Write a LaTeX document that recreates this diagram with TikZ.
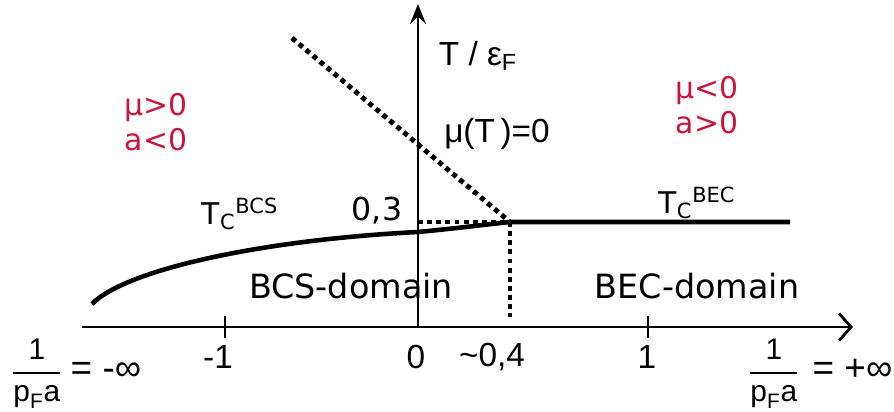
\documentclass[tikz,border=0pt]{standalone}
\usepackage{amsmath,fontspec}
\setmainfont{Liberation Sans}
\newfontfamily\verd{DejaVu Sans}
\usetikzlibrary{arrows.meta}
\definecolor{regime}{RGB}{204,20,60}
\tikzset{
  axis/.style={line width=1.6pt},
  yarr/.style={axis, -{Stealth[length=4mm, width=3.2mm, inset=1.5mm]}},
  xarr/.style={axis, -{Straight Barb[length=2.4mm, width=5.4mm]}},
  tc/.style={line width=2.6pt},
  dots/.style={line width=2.8pt, dash pattern=on 2.8pt off 2.4pt},
  lab/.style={inner sep=0pt, font=\fontsize{19}{22}\selectfont},
  vlab/.style={inner sep=0pt, font=\verd\fontsize{17}{20}\selectfont},
  reg/.style={vlab, text=regime, align=center},
  frac/.style={inner sep=0pt, font=\fontsize{17}{20}\selectfont},
}
\newcommand{\invpfa}{$\dfrac{\textrm{1}}{\textrm{p}_{\textrm{F}}\textrm{a}}$}
\begin{document}
\begin{tikzpicture}[x=0.02cm, y=-0.02cm]
  \useasboundingbox (0,0) rectangle (894,412);
  \coordinate (o) at (418,327);
  \coordinate (xl) at (82,327); \coordinate (xr) at (853,327);
  \coordinate (yt) at (418,4);
  \coordinate (m1) at (225,327); \coordinate (p1) at (648,327);
  \coordinate (crit) at (510,222);
  \coordinate (mu0) at (292,38);
  \coordinate (tcend) at (790,222);
  \draw[xarr] (xl) -- (xr);
  \draw[yarr] (o) -- (yt);
  \draw[axis] (m1) ++(0,-11) -- ++(0,22);
  \draw[axis] (p1) ++(0,-11) -- ++(0,22);
  \draw[tc] (92,304) .. controls (125,270) and (260,240) .. (418,232)
    .. controls (460,228) and (490,224) .. (crit) -- (tcend);
  \draw[dots] (mu0) -- (crit);
  \draw[dots] (o |- crit) -- (crit);
  \draw[dots] (crit) -- ++(0,95);
  \node[lab] (ty) at (478,56) {T / ε\textsubscript{F}};
  \node[lab] (mueq) at (497,134) {μ(T\,)=0};
  \node[vlab, font=\verd\fontsize{18}{21}\selectfont] (v03) at (377,211) {0,3};
  \node[vlab] (tcbcs) at (240,214) {T\textsubscript{C}\textsuperscript{BCS}};
  \node[vlab] (tcbec) at (697,203) {T\textsubscript{C}\textsuperscript{BEC}};
  \node[vlab, font=\verd\fontsize{19}{22}\selectfont] (bcs) at (351,286) {BCS-domain};
  \node[vlab, font=\verd\fontsize{19}{22}\selectfont] (bec) at (697,286) {BEC-domain};
  \node[reg] (bcsreg) at (156,122) {μ>0\\a<0};
  \node[reg] (becreg) at (707,105) {μ<0\\a>0};
  \node[lab] (tm1) at (218,357) {-1};
  \node[lab] (t0) at (416,357) {0};
  \node[lab] (t04) at (492,357) {\textasciitilde 0,4};
  \node[lab] (t1) at (647,357) {1};
  \node[frac, anchor=west] (linf) at (11,374) {\invpfa\;{\fontsize{21}{24}\selectfont= -∞}};
  \node[frac, anchor=west] (rinf) at (748,374) {\invpfa\;\,{\fontsize{21}{24}\selectfont= +∞}};
\end{tikzpicture}
\end{document}
